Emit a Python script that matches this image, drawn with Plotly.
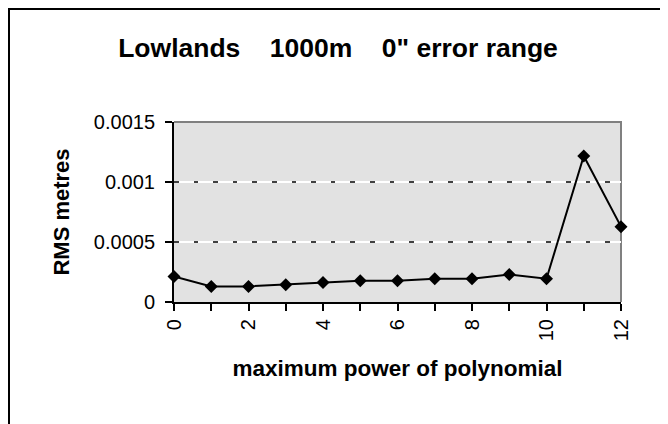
import plotly.graph_objs as go

# RMS error for each maximum power of polynomial
powers = list(range(13))
rms = [0.000213, 0.00013, 0.00013, 0.000144, 0.000163, 0.000178, 0.000178,
       0.000194, 0.000194, 0.00023, 0.000194, 0.001217, 0.000628]

x_tick_vals = list(range(13))
x_tick_text = ["0", "", "2", "", "4", "", "6", "", "8", "", "10", "", "12"]
y_tick_vals = [0, 0.0005, 0.001, 0.0015]
y_tick_text = ["0", "0.0005", "0.001", "0.0015"]

title_text = "Lowlands\u00a0\u00a0\u00a0\u00a01000m\u00a0\u00a0\u00a0\u00a00\" error range"

FONT = "Liberation Sans, Arial, sans-serif"

# page body adds an 8px offset, so margins are shifted to compensate
L, R, T, B = 166, 55, 114, 130
PW, PH = 668 - L - R, 424 - T - B

fig = go.Figure()

fig.add_trace(go.Scatter(
    x=powers,
    y=rms,
    mode="lines+markers",
    line=dict(color="black", width=2),
    marker=dict(symbol="diamond", size=10, color="black"),
    cliponaxis=False,
    showlegend=False,
))

# dashed part of the gridlines, drawn on an overlaid axis
fig.add_trace(go.Scatter(x=[], y=[], yaxis="y2", showlegend=False))

fig.update_layout(
    width=668,
    height=424,
    autosize=False,
    margin=dict(l=L, r=R, t=T, b=B),
    paper_bgcolor="white",
    plot_bgcolor="#e2e2e2",
    font=dict(family=FONT, color="black"),
    title=dict(
        text=title_text,
        font=dict(size=26.5, weight="bold"),
        x=330 / 668, xanchor="center",
        y=1 - 40 / 424, yanchor="middle",
    ),
    xaxis=dict(
        range=[0, 12],
        tickvals=x_tick_vals,
        ticktext=x_tick_text,
        tickangle=-90,
        tickfont=dict(size=20),
        ticks="outside",
        ticklen=7,
        tickcolor="black",
        tickwidth=1.5,
        showline=True,
        linecolor="black",
        linewidth=2,
        showgrid=False,
        zeroline=False,
        title=dict(text="maximum power of polynomial",
                   font=dict(size=22.5, weight="bold"), standoff=20),
    ),
    yaxis=dict(
        range=[0, 0.0015],
        tickvals=y_tick_vals,
        ticktext=y_tick_text,
        tickfont=dict(size=20),
        ticks="outside",
        ticklen=7,
        tickcolor="black",
        tickwidth=1.5,
        ticklabelstandoff=6,
        showline=True,
        linecolor="black",
        linewidth=2,
        showgrid=True,
        gridcolor="white",
        gridwidth=1.5,
        zeroline=False,
        title=dict(text="RMS metres", font=dict(size=22, weight="bold"), standoff=18),
    ),
    yaxis2=dict(
        range=[0, 0.0015],
        overlaying="y",
        tickvals=y_tick_vals,
        showticklabels=False,
        showgrid=True,
        gridcolor="#404040",
        gridwidth=1.5,
        griddash="4.6px,15px",
        zeroline=False,
        showline=False,
    ),
    shapes=[
        # grey top and right edges of the plot area
        dict(type="path", xref="paper", yref="paper",
             path="M0,1 L1,1 L1,0", line=dict(color="#808080", width=2),
             layer="below"),
        # outer chart frame (cut off at right and bottom)
        dict(type="rect", xref="paper", yref="paper",
             x0=(1 - L) / PW, x1=1.3, y0=-0.9, y1=1 + (T - 1) / PH,
             line=dict(color="black", width=2), layer="below"),
    ],
)

fig.write_html("out.html")
